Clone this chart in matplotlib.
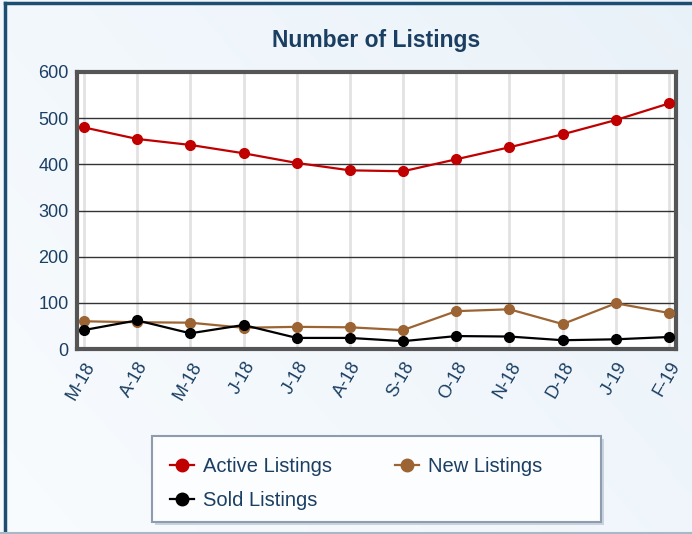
import numpy as np
import matplotlib
matplotlib.use('Agg')
import matplotlib.pyplot as plt
from matplotlib.lines import Line2D
from matplotlib.patches import Rectangle

months = ['M-18', 'A-18', 'M-18', 'J-18', 'J-18', 'A-18', 'S-18',
          'O-18', 'N-18', 'D-18', 'J-19', 'F-19']
active = [480, 455, 442, 424, 403, 387, 385, 411, 437, 465, 496, 532]
new = [60, 58, 57, 46, 48, 47, 41, 82, 86, 54, 99, 78]
sold = [41, 62, 34, 52, 24, 24, 17, 28, 27, 19, 21, 26]

navy = '#1b3f63'
fam = ['Liberation Sans', 'DejaVu Sans']

fig = plt.figure(figsize=(6.92, 5.34), dpi=100)

# background gradient
bg = fig.add_axes([0, 0, 1, 1], zorder=-10)
gx, gy = np.meshgrid(np.linspace(0, 1, 200), np.linspace(0, 1, 200))
t = np.clip(0.6 * gx + 0.4 * (1 - gy), 0, 1)
c0 = np.array([0.975, 0.987, 0.997])
c1 = np.array([0.915, 0.948, 0.975])
img = c0[None, None, :] * (1 - t[..., None]) + c1[None, None, :] * t[..., None]
bg.imshow(img, origin='upper', extent=[0, 1, 0, 1], aspect='auto')
bg.set_xlim(0, 1)
bg.set_ylim(0, 1)
bg.axis('off')
# outer border
bg.plot([4.5 / 692, 4.5 / 692], [0, 1 - 3 / 534], color='#1d4e72', lw=2.5)
bg.plot([4.5 / 692, 1], [1 - 3 / 534, 1 - 3 / 534], color='#1d4e72', lw=2.5)
bg.plot([0, 1], [1.5 / 534, 1.5 / 534], color='#a9b8c6', lw=1.5)

ax = fig.add_axes([77 / 692, 1 - 349 / 534, 599 / 692, 277 / 534])
ax.set_facecolor('white')
x = np.arange(len(months))
ax.plot(x, active, color='#c00000', lw=1.6, marker='o', ms=7, label='Active Listings', zorder=5)
ax.plot(x, new, color='#9c6433', lw=1.6, marker='o', ms=7, label='New Listings', zorder=4)
ax.plot(x, sold, color='black', lw=1.6, marker='o', ms=7, label='Sold Listings', zorder=6)

ax.set_xlim(-0.13, 11.13)
ax.set_ylim(0, 600)
ax.set_yticks(range(0, 601, 100))
ax.set_xticks(x)
ax.set_xticklabels(months, rotation=60, ha='right', va='top', rotation_mode='anchor',
                   family=fam, fontsize=13, color=navy)
for lab in ax.get_yticklabels():
    lab.set_family(fam)
    lab.set_fontsize(13)
    lab.set_color(navy)
ax.tick_params(length=0, pad=6)
ax.tick_params(axis='x', pad=7)
for v in x:
    ax.axvline(v, color='#e2e2e2', lw=2, zorder=1)
for v in range(100, 600, 100):
    ax.axhline(v, color='#333333', lw=1, zorder=2)
for s in ax.spines.values():
    s.set_color('#555555')
    s.set_linewidth(3)

fig.text(376.5 / 692, 1 - 41 / 534, 'Number of Listings', ha='center', va='center',
         fontsize=16.5, fontweight='bold', color=navy, family=fam)

# legend box
shadow = Rectangle((155 / 692, 1 - 525 / 534), 449 / 692, 86 / 534, transform=fig.transFigure,
                   facecolor='#c9d3dc', edgecolor='none', zorder=1)
fig.patches.append(shadow)
box = Rectangle((152 / 692, 1 - 522 / 534), 449 / 692, 86 / 534, transform=fig.transFigure,
                facecolor='#fcfdfe', edgecolor='#8d9caf', lw=1.5, zorder=2)
fig.patches.append(box)
handles, labels = ax.get_legend_handles_labels()
handles = [Line2D([], [], color=h.get_color(), lw=1.6, marker='o', ms=9) for h in handles]
order = [0, 2, 1]
leg = fig.legend([handles[i] for i in order], [labels[i] for i in order], ncol=2, loc='upper left',
                 bbox_to_anchor=(152 / 692, 1 - 439 / 534), frameon=False,
                 prop={'family': fam, 'size': 14.5}, handlelength=1.2, handletextpad=0.45,
                 columnspacing=3.1, labelspacing=0.72, labelcolor=navy)

fig.savefig('out.png', dpi=100)
